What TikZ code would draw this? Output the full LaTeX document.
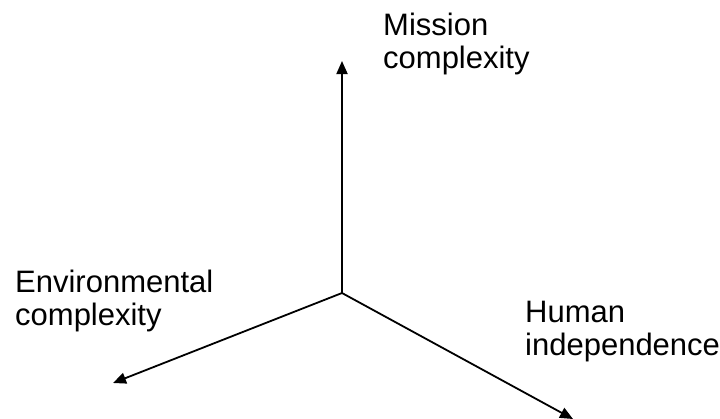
\documentclass[tikz,border=0pt]{standalone}
\usepackage{fontspec}
\setmainfont{Liberation Sans}
\usetikzlibrary{arrows.meta}
\begin{document}
\begin{tikzpicture}[x=1pt,y=-1pt,
  axis/.style={line width=1.8pt,-{Triangle[length=13pt,width=11pt]}},
  lbl/.style={inner sep=0pt,align=left,anchor=base west,font=\fontsize{31}{33}\selectfont}]
\useasboundingbox (0,0) rectangle (720,418);
\coordinate (o) at (342,293);
\coordinate (up) at (342,61);
\coordinate (lf) at (113,383);
\coordinate (rt) at (573,419);
\draw[axis] (o) -- (up);
\draw[axis] (o) -- (lf);
\draw[axis] (o) -- (rt);
\node[lbl] (mission) at (383,68) {Mission\\complexity};
\node[lbl] (env) at (15,325) {Environmental\\complexity};
\node[lbl] (human) at (525,355) {Human\\independence};
\end{tikzpicture}
\end{document}
